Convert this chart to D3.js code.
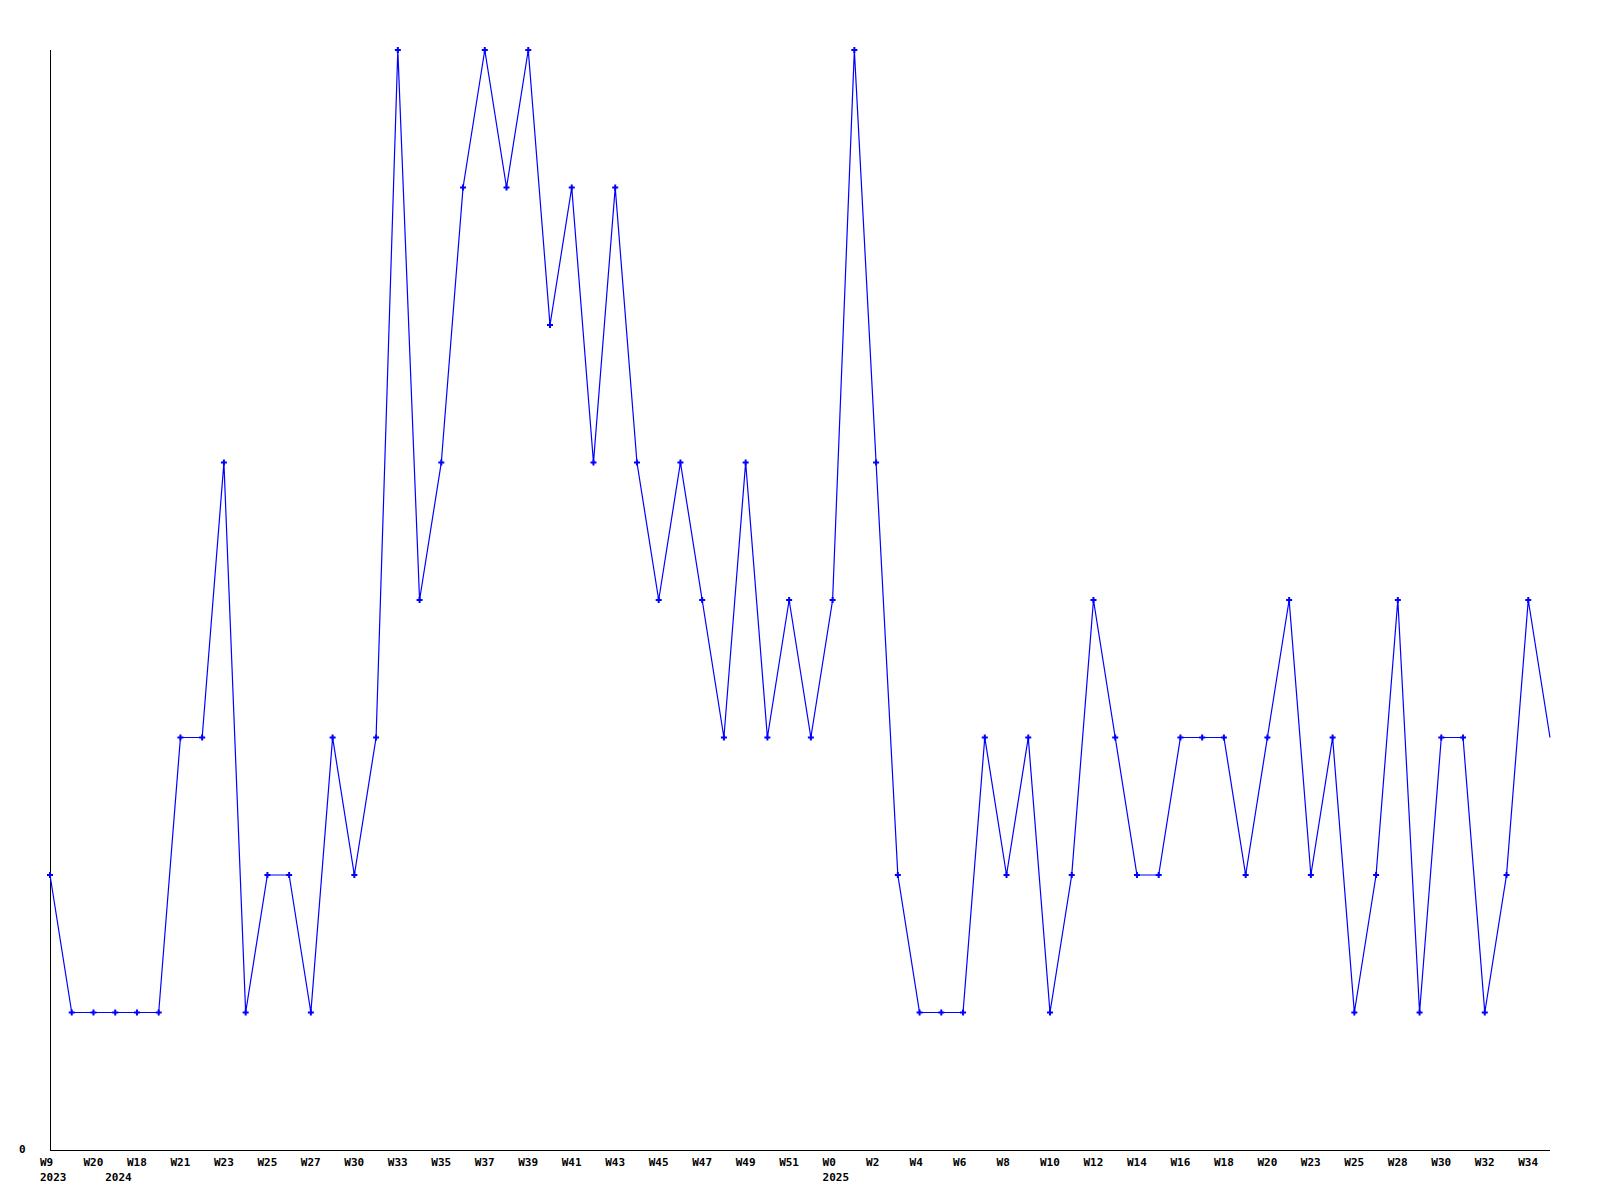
<!DOCTYPE html>
<html><head><meta charset="utf-8">
<script src="https://cdn.jsdelivr.net/npm/d3@7"></script>
<style>body{margin:0;background:#fff}svg{display:block}text{font-family:"DejaVu Sans Mono",monospace;font-weight:bold;font-size:11px;fill:#000}</style>
</head><body>
<script>
const values = [2,1,1,1,1,1,3,3,5,1,2,2,1,3,2,3,8,4,5,7,8,7,8,6,7,5,7,5,4,5,4,3,5,3,4,3,4,8,5,2,1,1,1,3,2,3,1,2,4,3,2,2,3,3,3,2,3,4,2,3,1,2,4,1,3,3,1,2,4,3];
const tickLabels = ["W9","W20","W18","W21","W23","W25","W27","W30","W33","W35","W37","W39","W41","W43","W45","W47","W49","W51","W0","W2","W4","W6","W8","W10","W12","W14","W16","W18","W20","W23","W25","W28","W30","W32","W34"];
const yearLabels = [{i:0,label:"2023"},{i:3,label:"2024"},{i:36,label:"2025"}];
const yTickLabels = ["0"];

const W=1600,H=1200;
const svg=d3.select("body").append("svg").attr("width",W).attr("height",H);
const x=d3.scaleLinear().domain([0,values.length-1]).range([50,1550]);
const y=d3.scaleLinear().domain([0,8]).range([1150,50]);

svg.append("line").attr("x1",50.5).attr("x2",50.5).attr("y1",50).attr("y2",1150).attr("stroke","#000");
svg.append("line").attr("x1",50).attr("x2",1550).attr("y1",1150.5).attr("y2",1150.5).attr("stroke","#000");

svg.append("path").datum(values)
  .attr("d",d3.line().x((d,i)=>x(i)).y(d=>y(d)))
  .attr("fill","none").attr("stroke","#0000ff").attr("stroke-width",1.2);

const sym=d3.symbol().type(d3.symbolCross).size(20);
svg.selectAll(".m").data(values.slice(0,values.length-1)).enter().append("path")
  .attr("transform",(d,i)=>`translate(${x(i)},${y(d)})`).attr("d",sym).attr("fill","#0000ff");

svg.selectAll(".tl").data(tickLabels).enter().append("text")
  .attr("x",(d,i)=>x(i*2)-10).attr("y",1166).text(d=>d);
svg.selectAll(".yl").data(yearLabels).enter().append("text")
  .attr("x",d=>x(d.i)-10).attr("y",1181).text(d=>d.label);
svg.selectAll(".yt").data(yTickLabels).enter().append("text")
  .attr("x",19).attr("y",1153).text(d=>d);
</script>
</body></html>
